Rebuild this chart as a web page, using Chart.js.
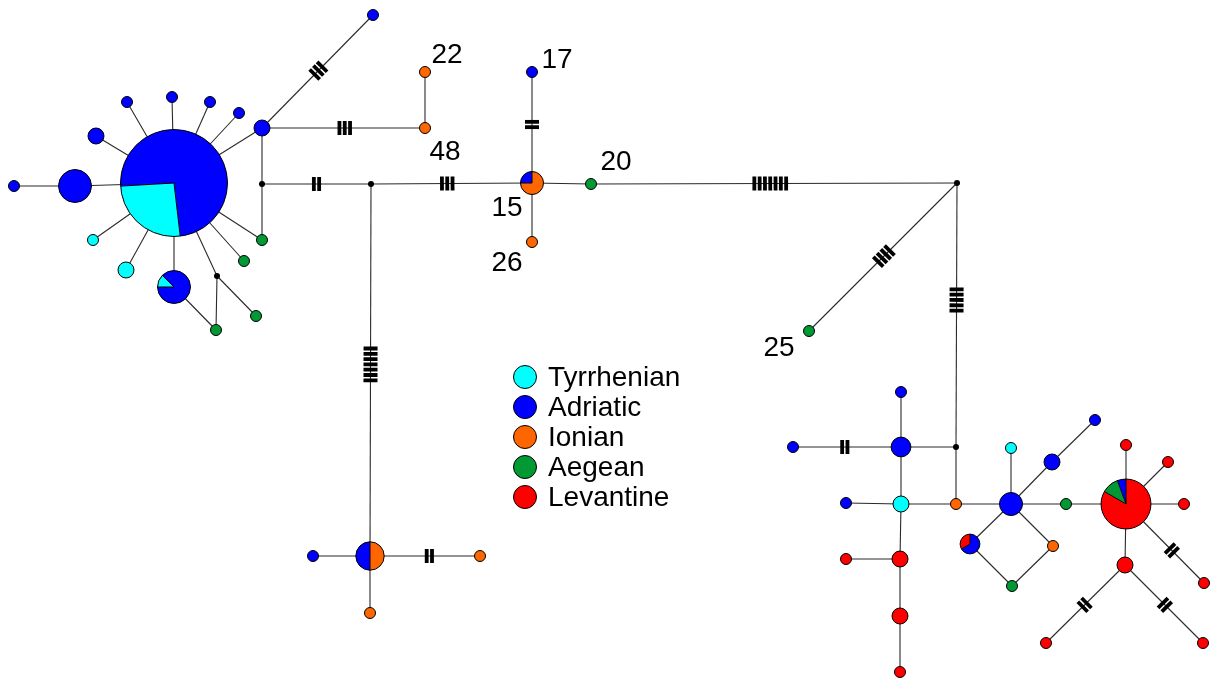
<!DOCTYPE html>
<html>
<head>
<meta charset="utf-8">
<script src="https://cdn.jsdelivr.net/npm/chart.js@4.4.0/dist/chart.umd.min.js"></script>
<style>
  html, body { margin: 0; padding: 0; background: #fff; }
  #wrap { width: 1212px; height: 682px; position: relative; }
</style>
</head>
<body>
<div id="wrap"><canvas id="network"></canvas></div>
<script>
// regions (legend) and their colours
const regions = ['Tyrrhenian', 'Adriatic', 'Ionian', 'Aegean', 'Levantine'];
const regionColors = ['#00ffff', '#0000ff', '#ff6600', '#009933', '#ff0000'];

// haplotype layout coordinates (network layout units)
const nodeX = [174, 75, 14, 96, 127, 172, 210, 239, 262, 373,
               425, 425, 262, 262, 244, 217, 256, 216, 174, 93,
               126, 371, 532, 532, 532, 591, 957, 809, 370, 313,
               480, 370, 956, 901, 793, 901, 846, 901, 956, 1011,
               1011, 1052, 1095, 1066, 1126, 1126, 1168, 1184, 1204, 1125,
               1046, 1203, 970, 1053, 1012, 846, 900, 900, 900];
const nodeY = [183, 186, 186, 136, 102, 97, 102, 113, 128, 15,
               72, 128, 184, 240, 261, 276, 316, 330, 287, 240,
               270, 184, 183, 72, 242, 184, 183, 331, 556, 556,
               556, 613, 447, 392, 447, 447, 503, 504, 504, 504,
               448, 462, 420, 504, 504, 445, 462, 504, 583, 565,
               643, 643, 544, 546, 586, 559, 559, 616, 672];

// haplotype composition: [region index, count] slices, clockwise from top; null = median vector
const nodeSlices = [
  [[1, 39], [0, 21], [1, 21]], [[1, 8]], [[1, 1]], [[1, 2]], [[1, 1]],
  [[1, 1]], [[1, 1]], [[1, 1]], [[1, 2]], [[1, 1]],
  [[2, 1]], [[2, 1]], null, [[3, 1]], [[3, 1]],
  null, [[3, 1]], [[3, 1]], [[1, 6], [0, 1], [1, 1]], [[0, 1]],
  [[0, 2]], null, [[2, 3], [1, 1]], [[1, 1]], [[2, 1]],
  [[3, 1]], null, [[3, 1]], [[2, 3], [1, 3]], [[1, 1]],
  [[2, 1]], [[2, 1]], null, [[1, 1]], [[1, 1]],
  [[1, 3]], [[1, 1]], [[0, 2]], [[2, 1]], [[1, 4]],
  [[0, 1]], [[1, 2]], [[1, 1]], [[3, 1]], [[4, 15], [3, 2], [1, 1]],
  [[4, 1]], [[4, 1]], [[4, 1]], [[4, 1]], [[4, 2]],
  [[4, 1]], [[4, 1]], [[1, 2], [4, 1]], [[2, 1]], [[3, 1]],
  [[4, 1]], [[4, 2]], [[4, 2]], [[4, 1]]
];

// links: [from, to, mutation steps]
const edges = [
  [0, 1, 1], [1, 2, 1], [0, 3, 1], [0, 4, 1], [0, 5, 1], [0, 6, 1], [0, 7, 1], [0, 8, 1],
  [8, 9, 3], [8, 11, 3], [11, 10, 1], [8, 12, 1], [12, 13, 1], [0, 13, 1], [0, 14, 1],
  [0, 15, 1], [15, 16, 1], [15, 17, 1], [0, 18, 1], [18, 17, 1], [0, 19, 1], [0, 20, 1],
  [12, 21, 2], [21, 22, 3], [21, 28, 7], [22, 23, 2], [22, 24, 1], [22, 25, 1],
  [25, 26, 7], [26, 27, 4], [26, 32, 5], [28, 29, 1], [28, 30, 2], [28, 31, 1],
  [32, 35, 1], [32, 38, 1], [33, 35, 1], [34, 35, 2], [35, 37, 1], [36, 37, 1], [37, 38, 1],
  [38, 39, 1], [37, 56, 1], [55, 56, 1], [56, 57, 1], [57, 58, 1], [39, 40, 1], [39, 41, 1],
  [41, 42, 1], [39, 43, 1], [43, 44, 1], [39, 52, 1], [52, 54, 1], [54, 53, 1], [53, 39, 1],
  [44, 45, 1], [44, 46, 1], [44, 47, 1], [44, 48, 2], [44, 49, 1], [49, 50, 2], [49, 51, 2]
];

// haplotype numbers shown on the figure
const labelNodes = [10, 11, 22, 23, 25, 24, 27];
const labelTexts = ['22', '48', '15', '17', '20', '26', '25'];
const labelOffsets = [[22, -17], [20, 24], [-25, 25], [25, -12], [25, -22], [-25, 21], [-30, 17]];

function nodeCount(i) {
  return nodeSlices[i] ? nodeSlices[i].reduce((s, p) => s + p[1], 0) : 0;
}
function nodeRadius(i) {
  return nodeSlices[i] ? 6 * Math.sqrt(nodeCount(i)) - 0.5 : 3;
}

const NODE_DS = edges.length;

const networkPlugin = {
  id: 'network',
  afterDatasetsDraw(chart) {
    const ctx = chart.ctx;
    const pts = chart.getDatasetMeta(NODE_DS).data;
    ctx.save();

    // mutation ticks
    edges.forEach(([a, b, m]) => {
      if (m < 2) return;
      const ax = pts[a].x, ay = pts[a].y, bx = pts[b].x, by = pts[b].y;
      const len = Math.hypot(bx - ax, by - ay);
      const ux = (bx - ax) / len, uy = (by - ay) / len;
      let t = (nodeRadius(a) + len - nodeRadius(b)) / 2;
      if (a === 26 && b === 32) t = len * 0.443;
      if (a === 25 && b === 26) t -= 5;
      const cx = ax + ux * t, cy = ay + uy * t;
      ctx.strokeStyle = '#000';
      ctx.lineWidth = 3.8;
      ctx.lineCap = 'butt';
      for (let k = 0; k < m; k++) {
        const s = (k - (m - 1) / 2) * 5.3;
        const tx = cx + ux * s, ty = cy + uy * s;
        ctx.beginPath();
        ctx.moveTo(tx - uy * 7, ty + ux * 7);
        ctx.lineTo(tx + uy * 7, ty - ux * 7);
        ctx.stroke();
      }
    });

    // haplotype pies
    pts.forEach((p, i) => {
      const r = nodeRadius(i);
      if (!nodeSlices[i]) {
        ctx.fillStyle = '#000';
        ctx.beginPath();
        ctx.arc(p.x, p.y, r, 0, Math.PI * 2);
        ctx.fill();
        return;
      }
      const total = nodeCount(i);
      ctx.lineWidth = 1;
      ctx.strokeStyle = '#000';
      const sl = nodeSlices[i];
      let ang = -Math.PI / 2;
      const bounds = [];
      sl.forEach(([reg, c], k) => {
        const end = ang + (c / total) * Math.PI * 2;
        ctx.fillStyle = regionColors[reg];
        ctx.beginPath();
        ctx.moveTo(p.x, p.y);
        ctx.arc(p.x, p.y, r, ang, end);
        ctx.closePath();
        ctx.fill();
        const next = sl[(k + 1) % sl.length][0];
        if (sl.length > 1 && next !== reg) bounds.push(end);
        ang = end;
      });
      bounds.forEach(a => {
        ctx.beginPath();
        ctx.moveTo(p.x, p.y);
        ctx.lineTo(p.x + Math.cos(a) * r, p.y + Math.sin(a) * r);
        ctx.stroke();
      });
      ctx.beginPath();
      ctx.arc(p.x, p.y, r, 0, Math.PI * 2);
      ctx.stroke();
    });

    // haplotype labels
    ctx.fillStyle = '#000';
    ctx.font = '28px "Liberation Sans", Arial, sans-serif';
    ctx.textAlign = 'center';
    ctx.textBaseline = 'middle';
    labelNodes.forEach((n, k) => {
      ctx.fillText(labelTexts[k], pts[n].x + labelOffsets[k][0], pts[n].y + labelOffsets[k][1]);
    });

    // legend
    const lx = chart.scales.x.getPixelForValue(525);
    ctx.textAlign = 'left';
    regions.forEach((name, k) => {
      const ly = chart.scales.y.getPixelForValue(377 + k * 30);
      ctx.fillStyle = regionColors[k];
      ctx.beginPath();
      ctx.arc(lx, ly, 11.5, 0, Math.PI * 2);
      ctx.fill();
      ctx.stroke();
      ctx.fillStyle = '#000';
      ctx.fillText(name, lx + 23, ly + 1);
    });
    ctx.restore();
  }
};

const datasets = edges.map(([a, b]) => ({
  data: [{ x: nodeX[a], y: nodeY[a] }, { x: nodeX[b], y: nodeY[b] }],
  showLine: true,
  borderColor: '#2a2a2a',
  borderWidth: 1.1,
  pointRadius: 0,
  pointHoverRadius: 0
}));
datasets.push({
  data: nodeX.map((x, i) => ({ x: x, y: nodeY[i] })),
  pointRadius: 0,
  pointHoverRadius: 0,
  showLine: false
});

new Chart(document.getElementById('network'), {
  type: 'scatter',
  data: { datasets: datasets },
  options: {
    responsive: true,
    maintainAspectRatio: false,
    animation: false,
    layout: { padding: 0 },
    plugins: { legend: { display: false }, tooltip: { enabled: false } },
    events: [],
    scales: {
      x: { type: 'linear', min: 0, max: 1212, display: false },
      y: { type: 'linear', min: 0, max: 682, reverse: true, display: false }
    }
  },
  plugins: [networkPlugin]
});
</script>
</body>
</html>
